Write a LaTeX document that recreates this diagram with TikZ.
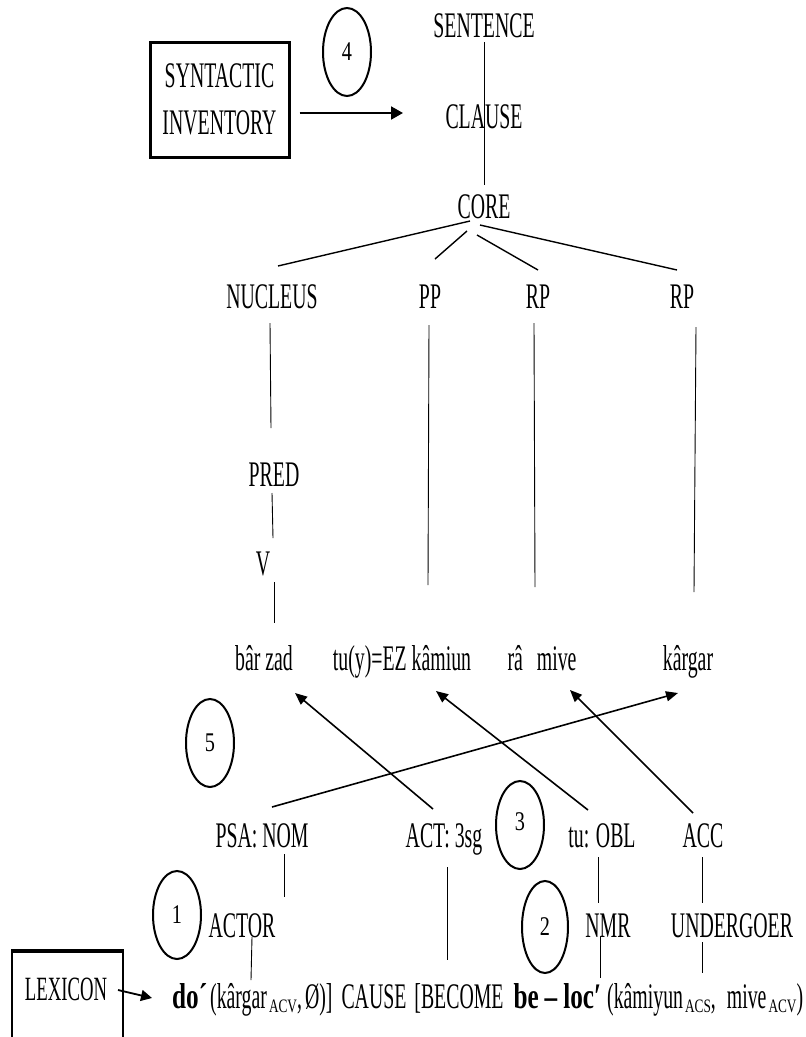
\documentclass[tikz,border=0pt]{standalone}
\usepackage{fontspec}
\setmainfont[FakeStretch=0.55]{Liberation Serif}
\newfontfamily\wbf[FakeStretch=0.7]{Liberation Serif}
\newfontfamily\subfont[FakeStretch=0.7]{Liberation Serif}
\newfontfamily\digfont[FakeStretch=0.75]{Liberation Serif}
\usetikzlibrary{arrows.meta,shapes.geometric}
\newcommand{\subsc}[1]{\raisebox{-4pt}{\subfont\fontsize{19}{19}\selectfont #1}}
\begin{document}
\begin{tikzpicture}[x=1pt,y=-1pt,
  every node/.style={inner sep=0pt, font=\fontsize{36}{43}\selectfont},
  lbl/.style={anchor=base},
  tree/.style={line width=0.9pt},
  link/.style={line width=1.6pt, -{Triangle[length=12pt,width=10pt]}},
  numc/.style={ellipse, draw, line width=2pt, minimum width=48pt, minimum height=88pt, font=\digfont\fontsize{27}{27}\selectfont},
  thickbox/.style={draw, line width=3pt, rectangle}]
\useasboundingbox (0,0) rectangle (806,1037);

% top part
\node[thickbox, minimum width=139pt, minimum height=115pt, align=center, font=\fontsize{36}{47}\selectfont] (syn) at (219.5,99.5) {SYNTACTIC\\INVENTORY};
\node[numc] (c4) at (347,52) {4};
\node[lbl] (sentence) at (484,37) {SENTENCE};
\node[lbl] (clause) at (484,128) {CLAUSE};
\node[lbl] (core) at (484,218) {CORE};

\node[lbl] (nucleus) at (272,308) {NUCLEUS};
\node[lbl] (pp) at (430,308) {PP};
\node[lbl] (rp1) at (538,308) {RP};
\node[lbl] (rp2) at (682,308) {RP};

\node[lbl] (pred) at (274,486) {PRED};
\node[lbl] (v) at (263,575) {V};

\node[lbl] (barzad) at (264,670) {bâr zad};
\node[lbl] (kamiun) at (402,670) {tu(y)=EZ kâmiun};
\node[lbl] (mive) at (542,670) {râ\hspace{9pt} mive};
\node[lbl] (kargar) at (688,670) {kârgar};

\node[numc] (c5) at (210,743) {5};

\node[lbl] (psa) at (262,847) {PSA: NOM};
\node[lbl] (act) at (444,847) {ACT: 3sg};
\node[numc] (c3) at (520,825) {\raisebox{6pt}{3}};
\node[lbl] (tuobl) at (602,847) {tu: OBL};
\node[lbl] (acc) at (703,847) {ACC};

\node[numc] (c1) at (177,915) {1};
\node[lbl] (actor) at (242,937) {ACTOR};
\node[numc, minimum width=46pt, minimum height=92pt] (c2) at (545,927) {2};
\node[lbl] (nmr) at (608,937) {NMR};
\node[lbl] (undergoer) at (732,937) {UNDERGOER};

\node[draw, line width=2pt, minimum width=111pt, minimum height=100pt] (lexbox) at (67.5,1002) {};
\draw[line width=3.5pt] (lexbox.north west) -- (lexbox.north east);
\node[lbl, font=\fontsize{34}{40}\selectfont] (lexicon) at (66,1000) {LEXICON};

\node[anchor=base west] (lsr) at (172,1008) {{\wbf\bfseries do´}\hspace{3pt}(kârgar\hspace{2pt}\subsc{ACV},\hspace{3pt}Ø)]\hspace{9pt}CAUSE\hspace{8pt}[BECOME\hspace{10pt}{\wbf\bfseries be\hspace{6pt}–\hspace{6pt}loc′}\hspace{6pt}(kâmiyun\hspace{2pt}\subsc{ACS},\hspace{11pt}mive\hspace{2pt}\subsc{ACV})};

% arrows
\draw[line width=2pt, -{Triangle[length=12pt,width=13pt]}] ([shift={(9,13.5)}]syn.east) -- ([shift={(-81,-15)}]clause.base);
\draw[line width=1.8pt, -{Triangle[length=11pt,width=11pt]}] ([shift={(52,-10)}]lexicon.base) -- ([shift={(-20,-10)}]lsr.base west);

% tree
\draw[tree] ([shift={(0,5)}]sentence.base) -- ([shift={(0,-33)}]core.base);
\draw[tree, line width=1.4pt] ([shift={(-14,3)}]core.base) -- ([shift={(6,-42)}]nucleus.base);
\draw[tree, line width=1.4pt] ([shift={(-17,13)}]core.base) -- ([shift={(5,-49)}]pp.base);
\draw[tree, line width=1.4pt] ([shift={(-7,17)}]core.base) -- ([shift={(0,-38)}]rp1.base);
\draw[tree, line width=1.4pt] ([shift={(-4,7)}]core.base) -- ([shift={(-5,-38)}]rp2.base);

\draw[tree] ([shift={(-2,15)}]nucleus.base) -- ([shift={(-3,-58)}]pred.base);
\draw[tree] ([shift={(-2,7)}]pred.base) -- ([shift={(10,-37)}]v.base);
\draw[tree] ([shift={(11,7)}]v.base) -- ([shift={(10,-47)}]barzad.base);
\draw[tree] ([shift={(-1,17)}]pp.base) -- ([shift={(26,-85)}]kamiun.base);
\draw[tree] ([shift={(-4,15)}]rp1.base) -- ([shift={(-7,-83)}]mive.base);
\draw[tree] ([shift={(14,19)}]rp2.base) -- ([shift={(6,-78)}]kargar.base);

% linking arrows
\draw[link] ([shift={(-11,-38)}]act.base) -- ([shift={(31,23)}]barzad.base);
\draw[link] ([shift={(-14,-37)}]tuobl.base) -- ([shift={(34,21)}]kamiun.base);
\draw[link] ([shift={(-10,-34)}]acc.base) -- ([shift={(28,20)}]mive.base);
\draw[link] ([shift={(10,-40)}]psa.base) -- ([shift={(-10,23)}]kargar.base);

% lower lines
\draw[tree] ([shift={(22,7)}]psa.base) -- ([shift={(42,-40)}]actor.base);
\draw[tree] ([shift={(10,0)}]actor.base) -- ([shift={(79,-28)}]lsr.base west);
\draw[tree] ([shift={(3,20)}]act.base) -- ([shift={(275,-48)}]lsr.base west);
\draw[tree] ([shift={(-4,10)}]tuobl.base) -- ([shift={(-10,-34)}]nmr.base);
\draw[tree] ([shift={(-8,0)}]nmr.base) -- ([shift={(428,-30)}]lsr.base west);
\draw[tree] ([shift={(-1,10)}]acc.base) -- ([shift={(-30,-34)}]undergoer.base);
\draw[tree] ([shift={(-30,5)}]undergoer.base) -- ([shift={(530,-35)}]lsr.base west);
\end{tikzpicture}
\end{document}
